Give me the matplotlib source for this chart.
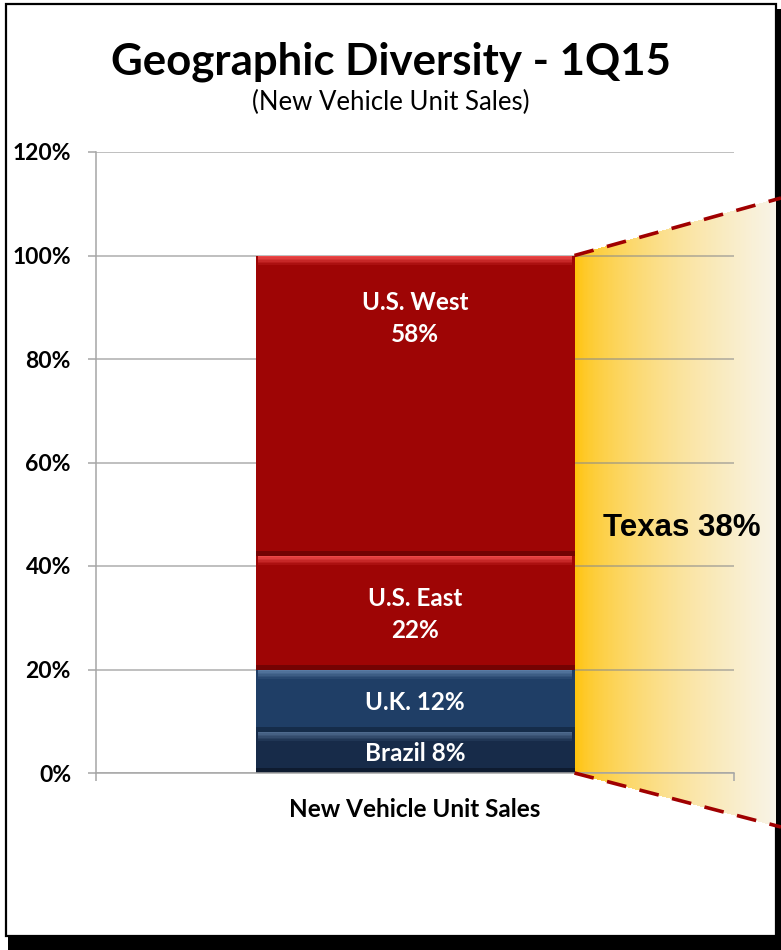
import matplotlib.pyplot as plt
import numpy as np
from matplotlib.patches import Rectangle
from matplotlib.colors import to_rgb

# data (stacked from the bottom)
regions = ["Brazil", "U.K.", "U.S. East", "U.S. West"]
shares = [8, 12, 22, 58]
labels = ["Brazil 8%", "U.K. 12%", "U.S. East\n22%", "U.S. West\n58%"]
label_y = [3.7, 13.7, 30.6, 87.8]
colors = ["#172B49", "#1F3E66", "#9E0505", "#9E0505"]
highlights = ["#4E6A8E", "#5A7BA3", "#EE4848", "#EE4848"]
shadows = ["#0E1B30", "#152C4A", "#740303", "#740303"]
category = "New Vehicle Unit Sales"
yticks = [0, 20, 40, 60, 80, 100, 120]
texas_label = "Texas 38%"

plt.rcParams['font.family'] = ['Lato', 'DejaVu Sans']

W, H = 781, 950
fig = plt.figure(figsize=(W / 100, H / 100), dpi=100)

# frame with drop shadow
fig.patches.append(Rectangle((8 / W, 0), (W - 8) / W, 14 / H, transform=fig.transFigure,
                             facecolor="black", edgecolor="none", zorder=-3))
fig.patches.append(Rectangle((776 / W, 0), 5 / W, 941 / H, transform=fig.transFigure,
                             facecolor="black", edgecolor="none", zorder=-3))
fig.patches.append(Rectangle((5.5 / W, 1 - 935.5 / H), 770 / W, 931.5 / H, transform=fig.transFigure,
                             facecolor="white", edgecolor="black", lw=1.6, zorder=-2))

ax = fig.add_axes([96 / W, 1 - 773 / H, 638 / W, 621 / H])
ax.patch.set_visible(False)
ax.set_xlim(-0.5, 0.5)
ax.set_ylim(0, 120)
ax.set_autoscale_on(False)

# stacked bar with a soft bevel at each segment's top and bottom
bw = 0.5
bottom = 0
for share, lab, ly, c, hi, sh in zip(shares, labels, label_y, colors, highlights, shadows):
    ax.bar(0, share, bw, bottom=bottom, color=c, zorder=2, lw=0)
    c_main, c_hi = np.array(to_rgb(c)), np.array(to_rgb(hi))
    steps = 6
    for k in range(steps):
        t = k / steps
        ax.bar(0, 0.3, bw * 0.985, bottom=bottom + share - 0.3 * (k + 1),
               color=c_hi + (c_main - c_hi) * t, zorder=2.1, lw=0)
    ax.bar(0, 0.9, bw, bottom=bottom, color=sh, zorder=2.1, lw=0)
    ax.text(0, ly, lab, ha="center", va="center", color="white", fontsize=17.5,
            fontweight="bold", linespacing=1.45, zorder=3)
    bottom += share
total = bottom

# callout trapezoid from bar edge to the right side of the frame
to_data = ax.transData.inverted()
x_in = bw / 2
x_edge, y_top_out = to_data.transform(fig.transFigure.transform((1.0, 1 - 198 / H)))
_, y_bot_out = to_data.transform(fig.transFigure.transform((1.0, 1 - 827 / H)))
x_fill, _ = to_data.transform(fig.transFigure.transform((775.5 / W, 0)))

def top_at(x):
    return total + (y_top_out - total) * (x - x_in) / (x_edge - x_in)

def bot_at(x):
    return 0 + (y_bot_out - 0) * (x - x_in) / (x_edge - x_in)

c0 = np.array(to_rgb("#FFC000"))
c1 = np.array(to_rgb("#F8F3E6"))
n = 160
xs = np.linspace(x_in, x_fill, n + 1)
for i in range(n):
    t = (i + 0.5) / n
    col = c0 + (c1 - c0) * t ** 0.6
    xa, xb = xs[i], xs[i + 1]
    ax.fill([xa, xb, xb, xa], [bot_at(xa), bot_at(xb), top_at(xb), top_at(xa)],
            color=col, lw=0, antialiased=False, clip_on=False, zorder=0.3)

for y_in, y_out in ((total, y_top_out), (0, y_bot_out)):
    ax.plot([x_in, x_edge], [y_in, y_out], color="#A00000", lw=2.6,
            ls=(0, (5.5, 3.8)), clip_on=False, zorder=4, solid_capstyle="butt")

ax.text((x_in + x_fill) / 2 + 0.01, 47.3, texas_label, ha="center", va="center",
        fontsize=22.5, fontweight="bold", family=["Liberation Sans", "DejaVu Sans"], zorder=5)

# axes styling
ax.set_axisbelow(True)
ax.grid(axis="y", color="#8C8C8C", lw=1.1, alpha=0.7)
ax.set_yticks(yticks, [f"{v}%" for v in yticks])
ax.tick_params(axis="y", direction="out", length=6, width=1.1, color="#A6A6A6", pad=12,
               labelsize=16.5)
for lbl in ax.get_yticklabels():
    lbl.set_fontweight("bold")
ax.set_xticks([-0.5, 0.5], ["", ""])
ax.tick_params(axis="x", which="major", direction="out", length=6, width=1.1, color="#A6A6A6")
ax.set_xticks([0], [category], minor=True)
ax.tick_params(axis="x", which="minor", length=0, pad=18, labelsize=17.5)
for lbl in ax.get_xticklabels(minor=True):
    lbl.set_fontweight("bold")
for s in ("top", "right"):
    ax.spines[s].set_visible(False)
for s in ("left", "bottom"):
    ax.spines[s].set_color("#A6A6A6")
    ax.spines[s].set_linewidth(1.1)

fig.text(0.5, 1 - 74 / H, "Geographic Diversity - 1Q15", ha="center", va="baseline",
         fontsize=31.5, fontweight="bold")
fig.text(0.5, 1 - 110 / H, "(New Vehicle Unit Sales)", ha="center", va="baseline",
         fontsize=18.5)

fig.savefig("out.png", dpi=100)
